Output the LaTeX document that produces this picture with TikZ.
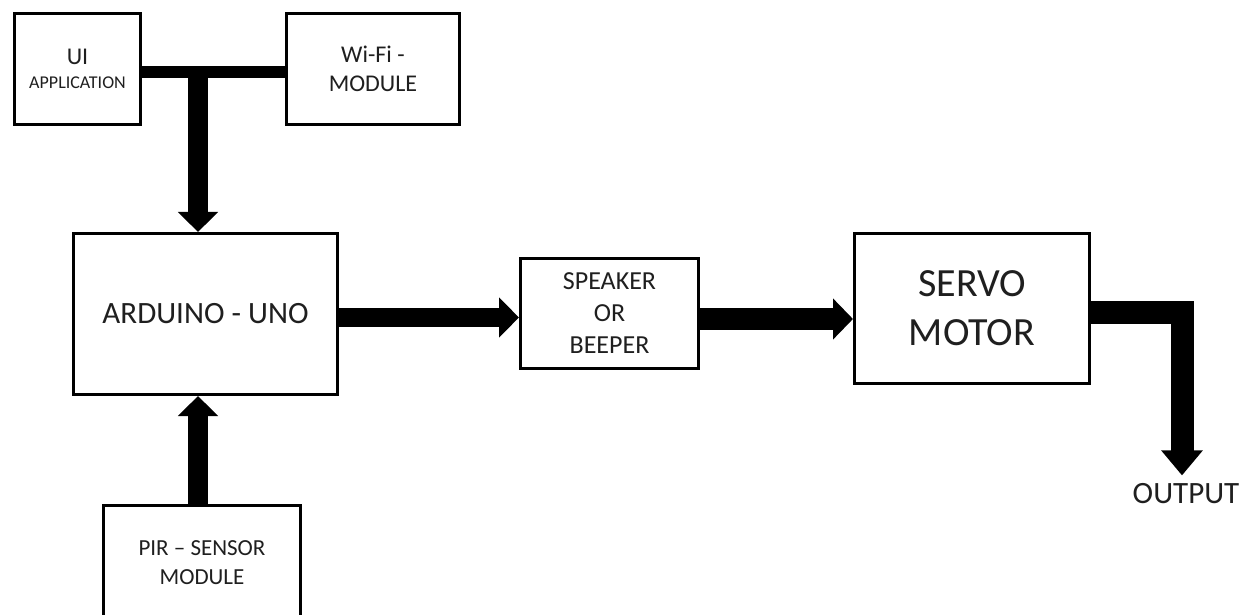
\documentclass[tikz,border=0pt]{standalone}
\usepackage{fontspec}
\setmainfont{Carlito}
\usetikzlibrary{arrows.meta,calc}
\begin{document}
\begin{tikzpicture}[x=0.5pt,y=-0.5pt,
  box/.style={draw=black, line width=1.5pt, inner sep=0pt, align=center, text=black!88},
  flow/.style={draw=black, line width=10pt, line join=miter, -{Triangle[width=19.5pt,length=10pt]}},
]
\useasboundingbox (0,0) rectangle (1250,615);
\fill[white] (0,0) rectangle (1250,615);
% boxes
\node[box, minimum width=63pt, minimum height=55.5pt] (ui) at (77.5,69)
  {{\fontsize{12}{13}\selectfont UI}\\[0pt]{\fontsize{9}{10}\selectfont APPLICATION}};
\node[box, minimum width=86.5pt, minimum height=55.5pt, font=\fontsize{12}{14.5}\selectfont] (wifi) at (373,69)
  {Wi-Fi -\\MODULE};
\node[box, minimum width=132pt, minimum height=80.5pt, font=\fontsize{15.5}{18}\selectfont] (ard) at (205.5,314)
  {ARDUINO - UNO};
\node[box, minimum width=89pt, minimum height=55pt, font=\fontsize{13}{16}\selectfont] (spk) at (609.5,313.5)
  {SPEAKER\\OR\\BEEPER};
\node[box, minimum width=117.5pt, minimum height=75pt, font=\fontsize{20}{24.5}\selectfont] (servo) at (972,308.5)
  {SERVO\\MOTOR};
\node[box, minimum width=98.5pt, minimum height=57pt, font=\fontsize{11.5}{14.5}\selectfont] (pir) at (202,562.5)
  {PIR – SENSOR\\MODULE};
\node[inner sep=0pt, text=black!88, font=\fontsize{15.5}{18}\selectfont] (out) at (1186,494) {OUTPUT};
% connectors
\coordinate (tj) at (198,72);
\draw[line width=6pt] ($(ui.east)+(0,3)$) -- ($(wifi.west)+(0,3)$);
\draw[flow] (tj) -- (tj |- ard.north);
\coordinate (a1) at ($(ard.east)+(0,3.5)$);
\draw[flow, line width=9.5pt] (a1) -- (a1 -| spk.west);
\coordinate (s1) at ($(spk.east)+(0,5.5)$);
\draw[flow, line width=11pt, -{Triangle[width=20pt,length=10pt]}] (s1) -- (s1 -| servo.west);
\coordinate (o1) at ($(servo.east)+(0,4)$);
\coordinate (o2) at ($(out.north)+(-4,-8)$);
\draw[flow, line width=11.5pt, -{Triangle[width=20pt,length=12.5pt]}] (o1) -| (o2);
\coordinate (p1) at ($(pir.north)+(-4,0)$);
\draw[flow] (p1) -- (p1 |- ard.south);
\end{tikzpicture}
\end{document}
